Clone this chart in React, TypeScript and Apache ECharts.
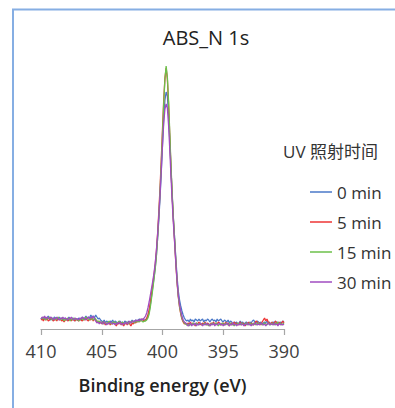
import React, { useEffect, useRef } from "react";
import * as echarts from "echarts";

// Binding energy grid: 410.0 eV down to 390.0 eV, 0.1 eV step (201 points)
const energyStart = 410;
const energyStep = 0.1;
const energyCount = 201;

const seriesNames = ["0 min", "5 min", "15 min", "30 min"];
const seriesColors = ["#4a78c8", "#ee3434", "#6cc04a", "#a04cc0"];
const xTicks = [390, 395, 400, 405, 410];

// Intensities (arbitrary units)
const blue0min = [
  10, 11, 9, 12, 10, 11, 13, 10, 9, 11,
  10, 12, 11, 9, 10, 12, 10, 11, 9, 10,
  11, 9, 10, 12, 10, 9, 11, 10, 8, 10,
  9, 11, 10, 9, 12, 10, 11, 13, 10, 12,
  11, 14, 12, 13, 11, 14, 12, 10, 11, 9,
  8, 7, 9, 6, 8, 7, 6, 8, 7, 9,
  6, 8, 7, 5, 7, 8, 6, 7, 5, 8,
  7, 6, 8, 6, 7, 9, 7, 8, 9, 8,
  9, 10, 9, 10, 9, 9,
  9, 10, 13, 17, 24, 33, 42, 51, 61, 74, 91, 110, 132, 157, 184, 210, 229, 237,
  233, 214, 188, 160, 133, 110, 90, 70, 52, 38, 29, 23, 18, 14, 11, 9, 8,
  9, 7, 10, 8, 9, 7, 10, 9, 8, 10,
  8, 9, 10, 7, 9, 8, 10, 9, 7, 9,
  10, 8, 9, 7, 10, 8, 9, 10, 8, 7,
  9, 8, 7, 9, 6, 8, 7, 5, 7, 6,
  7, 5, 6, 8, 6, 7, 5, 6, 7, 6,
  5, 7, 6, 8, 9, 7, 6, 8, 7, 6,
  7, 5, 6, 7, 6, 8, 6, 7, 5, 6,
  7, 6, 8, 6, 7, 5, 7, 6, 8, 7,
];

const red5min = [
  9, 10, 8, 11, 9, 10, 8, 9, 11, 10,
  8, 9, 10, 8, 11, 9, 10, 8, 9, 7,
  9, 10, 8, 9, 11, 8, 10, 9, 8, 10,
  9, 8, 10, 9, 8, 10, 9, 11, 9, 8,
  10, 9, 11, 8, 10, 9, 7, 8, 6, 7,
  5, 7, 6, 4, 6, 5, 7, 4, 6, 5,
  7, 5, 3, 6, 5, 7, 4, 6, 3, 5,
  6, 4, 7, 5, 3, 6, 5, 7, 6, 8,
  7, 9, 8, 10, 9, 8,
  9, 11, 14, 19, 27, 36, 45, 54, 64, 78, 96, 118, 142, 170, 200, 229, 251, 261,
  250, 225, 193, 160, 132, 108, 87, 65, 46, 32, 22, 15, 10, 7, 5, 6,
  4, 6, 5, 7, 4, 6, 5, 3, 6, 5,
  7, 5, 4, 6, 5, 7, 4, 6, 5, 3,
  6, 5, 7, 4, 6, 5, 7, 6, 4, 5,
  6, 4, 7, 5, 6, 3, 5, 6, 4, 7,
  5, 6, 4, 5, 7, 4, 6, 5, 3, 6,
  5, 7, 4, 6, 5, 4, 6, 8, 7, 5,
  6, 4, 7, 9, 11, 8, 10, 7, 6, 5,
  7, 5, 6, 8, 6, 4, 7, 5, 6, 8,
  6,
];

const green15min = [
  11, 10, 12, 10, 9, 11, 10, 12, 11, 9,
  10, 11, 9, 10, 12, 10, 9, 11, 10, 8,
  10, 9, 11, 10, 8, 10, 9, 11, 10, 9,
  10, 8, 9, 11, 10, 9, 10, 12, 11, 10,
  9, 11, 10, 9, 11, 10, 8, 7, 8, 6,
  7, 5, 6, 7, 5, 6, 8, 6, 5, 7,
  6, 7, 5, 6, 8, 6, 5, 7, 6, 5,
  7, 6, 5, 7, 6, 8, 7, 6, 8, 7,
  8, 7, 9, 8, 7, 8,
  8, 9, 11, 15, 22, 31, 40, 50, 60, 73, 92, 113, 138, 165, 195, 226, 250, 263,
  252, 228, 196, 163, 135, 110, 90, 68, 48, 33, 23, 16, 11, 8, 6, 5,
  4, 5, 3, 5, 4, 6, 5, 4, 6, 5,
  4, 6, 5, 4, 5, 6, 4, 5, 3, 5,
  4, 6, 5, 4, 6, 5, 3, 5, 4, 6,
  5, 4, 6, 5, 4, 5, 6, 4, 5, 3,
  5, 4, 6, 5, 4, 6, 5, 4, 5, 6,
  4, 5, 6, 5, 4, 6, 5, 4, 6, 5,
  5, 6, 4, 5, 6, 5, 4, 6, 5, 4,
  6, 5, 4, 6, 5, 7, 5, 6, 4, 5,
  6,
];

const purple30min = [
  10, 12, 11, 13, 10, 12, 11, 10, 12, 11,
  9, 11, 10, 12, 10, 9, 11, 10, 12, 10,
  11, 10, 9, 11, 10, 12, 10, 9, 11, 10,
  10, 9, 11, 10, 12, 11, 10, 9, 11, 12,
  10, 12, 11, 13, 10, 8, 6, 7, 5, 7,
  6, 5, 7, 6, 4, 6, 5, 7, 6, 5,
  6, 4, 6, 5, 7, 5, 6, 4, 6, 5,
  7, 5, 6, 8, 6, 7, 8, 7, 9, 8,
  9, 8, 10, 9, 10,
  11, 13, 16, 21, 27, 34, 41, 48, 56, 66, 79, 95, 114, 135, 159, 184, 206, 220, 225,
  221, 204, 179, 152, 127, 105, 86, 66, 48, 34, 25, 18, 13, 9, 7, 6,
  5, 3, 4, 6, 3, 5, 4, 6, 3, 5,
  4, 6, 5, 3, 5, 4, 6, 4, 5, 3,
  5, 4, 6, 3, 5, 4, 5, 6, 4, 5,
  3, 5, 4, 6, 5, 3, 5, 4, 6, 4,
  5, 3, 5, 4, 6, 4, 5, 3, 5, 4,
  6, 4, 5, 3, 5, 4, 6, 5, 4, 5,
  4, 6, 5, 4, 5, 3, 5, 6, 4, 5,
  5, 4, 6, 4, 5, 3, 6, 4, 5, 4,
  5,
];

const seriesValues = [blue0min, red5min, green15min, purple30min];

const FONT = "'Open Sans', 'Noto Sans', 'Noto Sans CJK SC', sans-serif";

export default function App() {
  const ref = useRef<HTMLDivElement>(null);

  useEffect(() => {
    document.body.style.margin = "0";
    if (!ref.current) return;
    const chart = echarts.init(ref.current, undefined, { renderer: "svg" });

    const energies: number[] = [];
    for (let i = 0; i < energyCount; i++) {
      energies.push(Math.round((energyStart - energyStep * i) * 10) / 10);
    }

    const series = seriesNames.map((name, k) => ({
      name,
      type: "line",
      symbol: "none",
      showSymbol: false,
      data: energies.map((e, i) => [e, seriesValues[k][i]]),
      lineStyle: { color: seriesColors[k], width: 1.3 },
      itemStyle: { color: seriesColors[k] },
    }));

    chart.setOption({
      animation: false,
      backgroundColor: "#ffffff",
      textStyle: { fontFamily: FONT },
      grid: { left: 41, right: 111, top: 29, bottom: 79, containLabel: false },
      xAxis: {
        type: "value",
        inverse: true,
        min: xTicks[0],
        max: xTicks[xTicks.length - 1],
        interval: 5,
        name: "Binding energy (eV)",
        nameLocation: "middle",
        nameGap: 47,
        nameTextStyle: { fontSize: 18, fontWeight: 600, color: "#222", fontFamily: FONT },
        axisLine: { show: true, lineStyle: { color: "#a6a6a6", width: 1.2 } },
        axisTick: { show: true, inside: false, length: 6, lineStyle: { color: "#a6a6a6", width: 1.2 } },
        axisLabel: { fontSize: 18, color: "#404040", margin: 13, fontFamily: FONT },
        splitLine: { show: false },
      },
      yAxis: {
        type: "value",
        show: false,
        min: 0,
        max: 300,
        splitLine: { show: false },
      },
      legend: {
        orient: "vertical",
        left: 305,
        top: 177,
        icon: "rect",
        itemWidth: 22,
        itemHeight: 1.5,
        itemGap: 10,
        data: seriesNames,
        textStyle: { fontSize: 17, color: "#333", lineHeight: 20, fontFamily: FONT },
      },
      graphic: [
        {
          type: "polyline",
          shape: { points: [[13, 408], [13, 9.5], [395, 9.5]] },
          style: { stroke: "#86aee3", lineWidth: 2, fill: "none" },
          silent: true,
        },
        {
          type: "text",
          x: 206,
          y: 37,
          style: {
            text: "ABS_N 1s",
            fontSize: 20,
            fontWeight: 500,
            fontFamily: FONT,
            fill: "#222",
            align: "center",
            verticalAlign: "middle",
          },
        },
        {
          type: "text",
          x: 283,
          y: 151,
          style: {
            text: "UV 照射时间",
            fontSize: 17,
            fontFamily: FONT,
            fill: "#333",
            align: "left",
            verticalAlign: "middle",
          },
        },
      ],
      series,
    });

    return () => chart.dispose();
  }, []);

  return (
    <div
      ref={ref}
      style={{ position: "absolute", left: 0, top: 0, width: 395, height: 408 }}
    />
  );
}
